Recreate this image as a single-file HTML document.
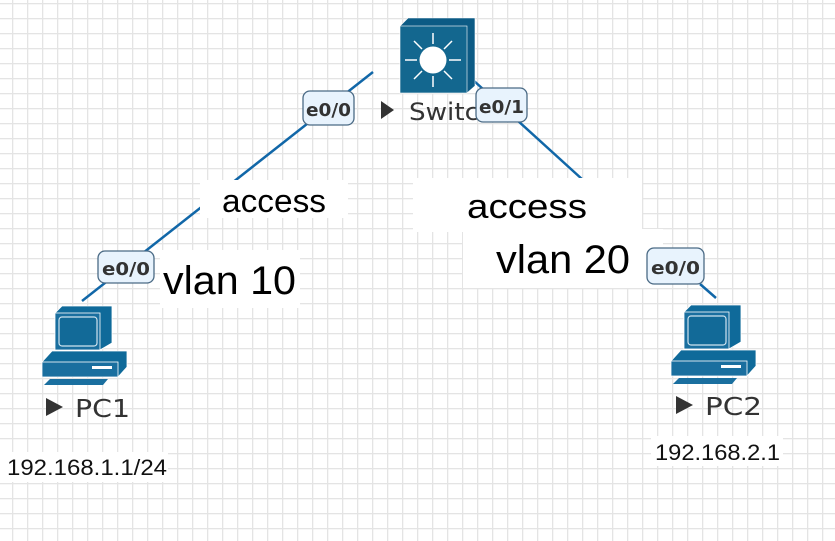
<!DOCTYPE html>
<html><head><style>
html,body{margin:0;padding:0;width:835px;height:541px;overflow:hidden;background:#fff}
</style></head><body>
<svg width="835" height="541" viewBox="0 0 835 541" xmlns="http://www.w3.org/2000/svg" font-family="Liberation Sans, sans-serif">
<defs>
<pattern id="g" x="12" y="3" width="15" height="15" patternUnits="userSpaceOnUse">
<rect x="0" y="0" width="15" height="1.3" fill="#e4e4e4"/>
<rect x="0" y="0" width="1.3" height="15" fill="#e4e4e4"/>
</pattern>
</defs>
<rect width="835" height="541" fill="url(#g)"/>
<g stroke="#1167a8" stroke-width="2.5">
<line x1="373" y1="72" x2="82" y2="301"/>
<line x1="473" y1="80" x2="583" y2="180"/>
<line x1="700" y1="284" x2="716" y2="298"/>
</g>
<rect x="200" y="180" width="148" height="38" fill="#fff"/>
<text x="222" y="212" font-size="32" textLength="104" lengthAdjust="spacingAndGlyphs" fill="#000">access</text>
<rect x="160" y="250" width="140" height="58" fill="#fff"/>
<text x="163" y="294" font-size="40" textLength="133" lengthAdjust="spacingAndGlyphs" fill="#000">vlan 10</text>
<rect x="413" y="178" width="229" height="54" fill="#fff"/>
<text x="467" y="218" font-size="34" textLength="120" lengthAdjust="spacingAndGlyphs" fill="#000">access</text>
<rect x="463" y="229" width="200" height="59" fill="#fff"/>
<text x="496" y="273" font-size="40" textLength="134" lengthAdjust="spacingAndGlyphs" fill="#000">vlan 20</text>
<!-- switch -->
<path d="M400 26 L408 18 L475 18 L475 86 L467 93 L400 93Z" fill="#0c5b85" stroke="#fff" stroke-width="0.6"/>
<rect x="400" y="26" width="67" height="67" fill="#13678f" stroke="#fff" stroke-width="0.6"/>
<circle cx="433" cy="60" r="13.5" fill="#fff"/>
<g stroke="#fff" stroke-width="1.5">
<line x1="433" y1="44" x2="433" y2="33"/><line x1="433" y1="76" x2="433" y2="87"/>
<line x1="417" y1="60" x2="405" y2="60"/><line x1="449" y1="60" x2="461" y2="60"/>
<line x1="422" y1="49" x2="414" y2="41"/><line x1="444" y1="49" x2="452" y2="41"/>
<line x1="422" y1="71" x2="414" y2="79"/><line x1="444" y1="71" x2="452" y2="79"/>
</g>
<path d="M381 101 L394 110 L381 119Z" fill="#333"/>
<text x="409" y="120" font-size="24" textLength="70" lengthAdjust="spacingAndGlyphs" fill="#333" font-family="DejaVu Sans, sans-serif">Switc</text>
<g font-family="DejaVu Sans, sans-serif" font-weight="bold" font-size="18" fill="#333">
<rect x="303" y="91" width="51" height="34" rx="7" fill="#e8f3fd" stroke="#4a6a85" stroke-width="1.3"/>
<text x="306" y="116" textLength="45" lengthAdjust="spacingAndGlyphs">e0/0</text>
<rect x="476" y="88" width="51" height="34" rx="7" fill="#e8f3fd" stroke="#4a6a85" stroke-width="1.3"/>
<text x="479" y="113" textLength="45" lengthAdjust="spacingAndGlyphs">e0/1</text>
<rect x="98" y="251" width="56" height="32" rx="7" fill="#e8f3fd" stroke="#4a6a85" stroke-width="1.3"/>
<text x="102" y="275" textLength="48" lengthAdjust="spacingAndGlyphs">e0/0</text>
<rect x="647" y="248" width="57" height="36" rx="7" fill="#e8f3fd" stroke="#4a6a85" stroke-width="1.3"/>
<text x="651" y="274" textLength="49" lengthAdjust="spacingAndGlyphs">e0/0</text>
</g>
<g id="pc1">
<path d="M55 313 L62 306 L112 306 L112 343 L100 350 L55 350Z" fill="#0f6a9a" stroke="#fff" stroke-width="0.8"/>
<rect x="55" y="313" width="45" height="37" fill="#1a6f9f" stroke="#fff" stroke-width="0.8"/>
<rect x="59" y="317" width="38" height="29" rx="3" fill="#126a98" stroke="#cfe3ef" stroke-width="1.2"/>
<path d="M42 362 L52 351 L127 351 L127 367 L118 377 L42 377Z" fill="#0f6a9a" stroke="#fff" stroke-width="0.8"/>
<rect x="42" y="362" width="76" height="15" fill="#1a6f9f" stroke="#fff" stroke-width="0.8"/>
<rect x="92" y="366" width="20" height="3" fill="#fff"/>
<path d="M44 385 L50 379 L108 379 L103 385Z" fill="#1a6f9f"/>
</g>
<use href="#pc1" x="629" y="-1"/>
<g font-family="DejaVu Sans, sans-serif" font-size="25" fill="#333">
<path d="M46 398 L63 407 L46 416Z" fill="#333"/>
<text x="75" y="417" textLength="55" lengthAdjust="spacingAndGlyphs">PC1</text>
<path d="M676 396 L693 405 L676 414Z" fill="#333"/>
<text x="705" y="415" textLength="57" lengthAdjust="spacingAndGlyphs">PC2</text>
</g>
<rect x="0" y="452" width="168" height="30" fill="#fff"/>
<text x="7" y="475" font-size="22" textLength="160" lengthAdjust="spacingAndGlyphs" fill="#111">192.168.1.1/24</text>
<rect x="651" y="436" width="132" height="30" fill="#fff"/>
<text x="655" y="460" font-size="22" textLength="125" lengthAdjust="spacingAndGlyphs" fill="#111">192.168.2.1</text>
</svg>
</body></html>
